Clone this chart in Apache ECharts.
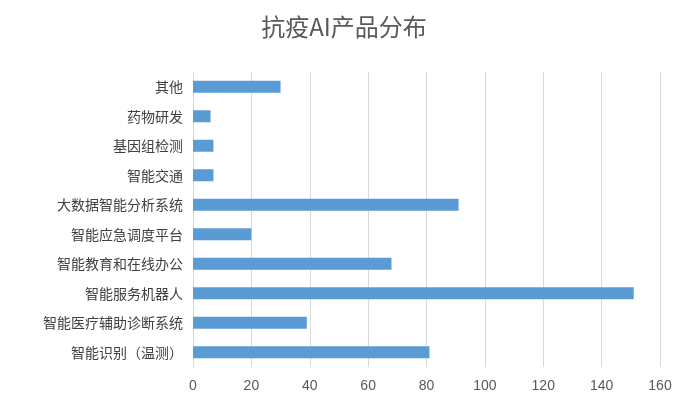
<!DOCTYPE html>
<html><head><meta charset="utf-8">
<script src="https://cdn.jsdelivr.net/npm/echarts@6/dist/echarts.min.js"></script>
<style>body{margin:0}#c{width:688px;height:400px}</style></head>
<body><div id="c"></div>
<script>
const categories = ['智能识别（温测）','智能医疗辅助诊断系统','智能服务机器人','智能教育和在线办公','智能应急调度平台','大数据智能分析系统','智能交通','基因组检测','药物研发','其他'];
const values = [81,39,151,68,20,91,7,7,6,30];
const chart = echarts.init(document.getElementById('c'));
chart.setOption({
  title:{text:'抗疫AI产品分布',left:'center',top:10,textStyle:{fontSize:24,fontWeight:'normal',color:'#595959',fontFamily:'Noto Sans CJK SC'}},
  grid:{left:193,right:28,top:72,bottom:33},
  xAxis:{type:'value',min:0,max:160,interval:20,axisLine:{show:false},axisTick:{show:false},
    splitLine:{lineStyle:{color:'#d9d9d9'}},axisLabel:{color:'#595959',fontSize:14,margin:12}},
  yAxis:{type:'category',data:categories,axisTick:{show:false},axisLine:{lineStyle:{color:'#d9d9d9'}},
    axisLabel:{color:'#404040',fontSize:14,margin:10,fontFamily:'Noto Sans CJK SC'}},
  series:[{type:'bar',data:values,barWidth:12,itemStyle:{color:'#5b9bd5'}}]
});
</script></body></html>
